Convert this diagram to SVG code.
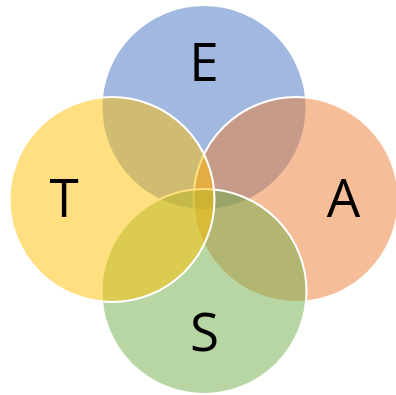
<svg xmlns="http://www.w3.org/2000/svg" width="396" height="395" viewBox="0 0 396 395">
<style>
.c{stroke:#fff;stroke-width:2;fill-opacity:0.5}
.t{font-family:"Open Sans","Noto Sans","Liberation Sans",sans-serif;font-size:53px;fill:#000;text-anchor:middle}
</style>
<rect width="396" height="395" fill="#fff"/>
<g id="E"><circle class="c" cx="204" cy="107.5" r="102.5" fill="#4472C4"/></g>
<g id="A"><circle class="c" cx="296" cy="199.5" r="102.5" fill="#ED7D31"/></g>
<g id="S"><circle class="c" cx="204" cy="291.5" r="102.5" fill="#70AD47"/></g>
<g id="T"><circle class="c" cx="112" cy="199.5" r="102.5" fill="#FFC000"/></g>
<g id="labels">
<text class="t" x="204" y="81">E</text>
<text class="t" x="64" y="217">T</text>
<text class="t" x="343.5" y="217">A</text>
<text class="t" x="204.5" y="351">S</text>
</g>
<g id="connectors"/>
</svg>
